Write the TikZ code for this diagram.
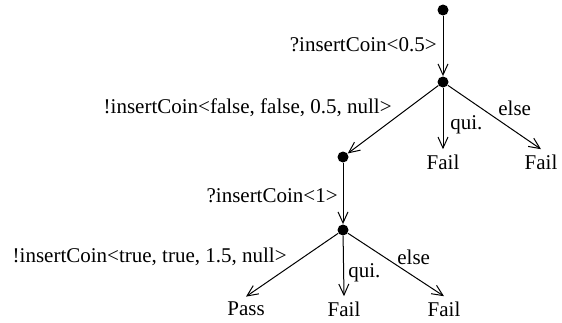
\documentclass[tikz,border=0pt]{standalone}
\usepackage{fontspec}
\setmainfont{Liberation Serif}
\usetikzlibrary{arrows.meta}
\begin{document}
\begin{tikzpicture}[x=0.5pt, y=-0.5pt, font=\fontsize{10.5}{12}\selectfont,
    state/.style={circle, fill, inner sep=0pt, minimum size=5.5pt},
    verdict/.style={inner sep=2.5pt},
    lbl/.style={inner sep=0pt},
    trans/.style={-{Straight Barb[length=5.5pt, width=5pt]}, line width=0.5pt}]
    \useasboundingbox (0,0) rectangle (562,322);

    \node[state] (s0) at (443, 10) {};
    \node[state] (s1) at (443, 82) {};
    \node[state] (s2) at (343, 157) {};
    \node[verdict] (f1) at (443, 162) {Fail};
    \node[verdict] (f2) at (541, 162) {Fail};
    \draw[trans] (s0) -- (s1);
    \node[lbl, anchor=east] at (437, 45) {?insertCoin<0.5>};
    \draw[trans] (s1) -- (s2);
    \node[lbl, anchor=east] at (392, 108) {!insertCoin<false, false, 0.5, null>};
    \draw[trans] (s1) -- (f1.north);
    \node[lbl, anchor=west] at (450, 125) {qui.};
    \draw[trans] (s1) -- (f2.north);
    \node[lbl, anchor=west] at (498, 108) {else};

    \node[state] (s3) at (343, 230) {};
    \node[verdict] (p3) at (246, 309) {Pass};
    \node[verdict] (f3) at (344, 309) {Fail};
    \node[verdict] (f4) at (444, 309) {Fail};
    \draw[trans] (s2) -- (s3);
    \node[lbl, anchor=east] at (338, 196) {?insertCoin<1>};
    \draw[trans] (s3) -- (p3.north);
    \node[lbl, anchor=east] at (287, 257) {!insertCoin<true, true, 1.5, null>};
    \draw[trans] (s3) -- (f3.north);
    \node[lbl, anchor=west] at (348, 273) {qui.};
    \draw[trans] (s3) -- (f4.north);
    \node[lbl, anchor=west] at (397, 257) {else};
\end{tikzpicture}
\end{document}
